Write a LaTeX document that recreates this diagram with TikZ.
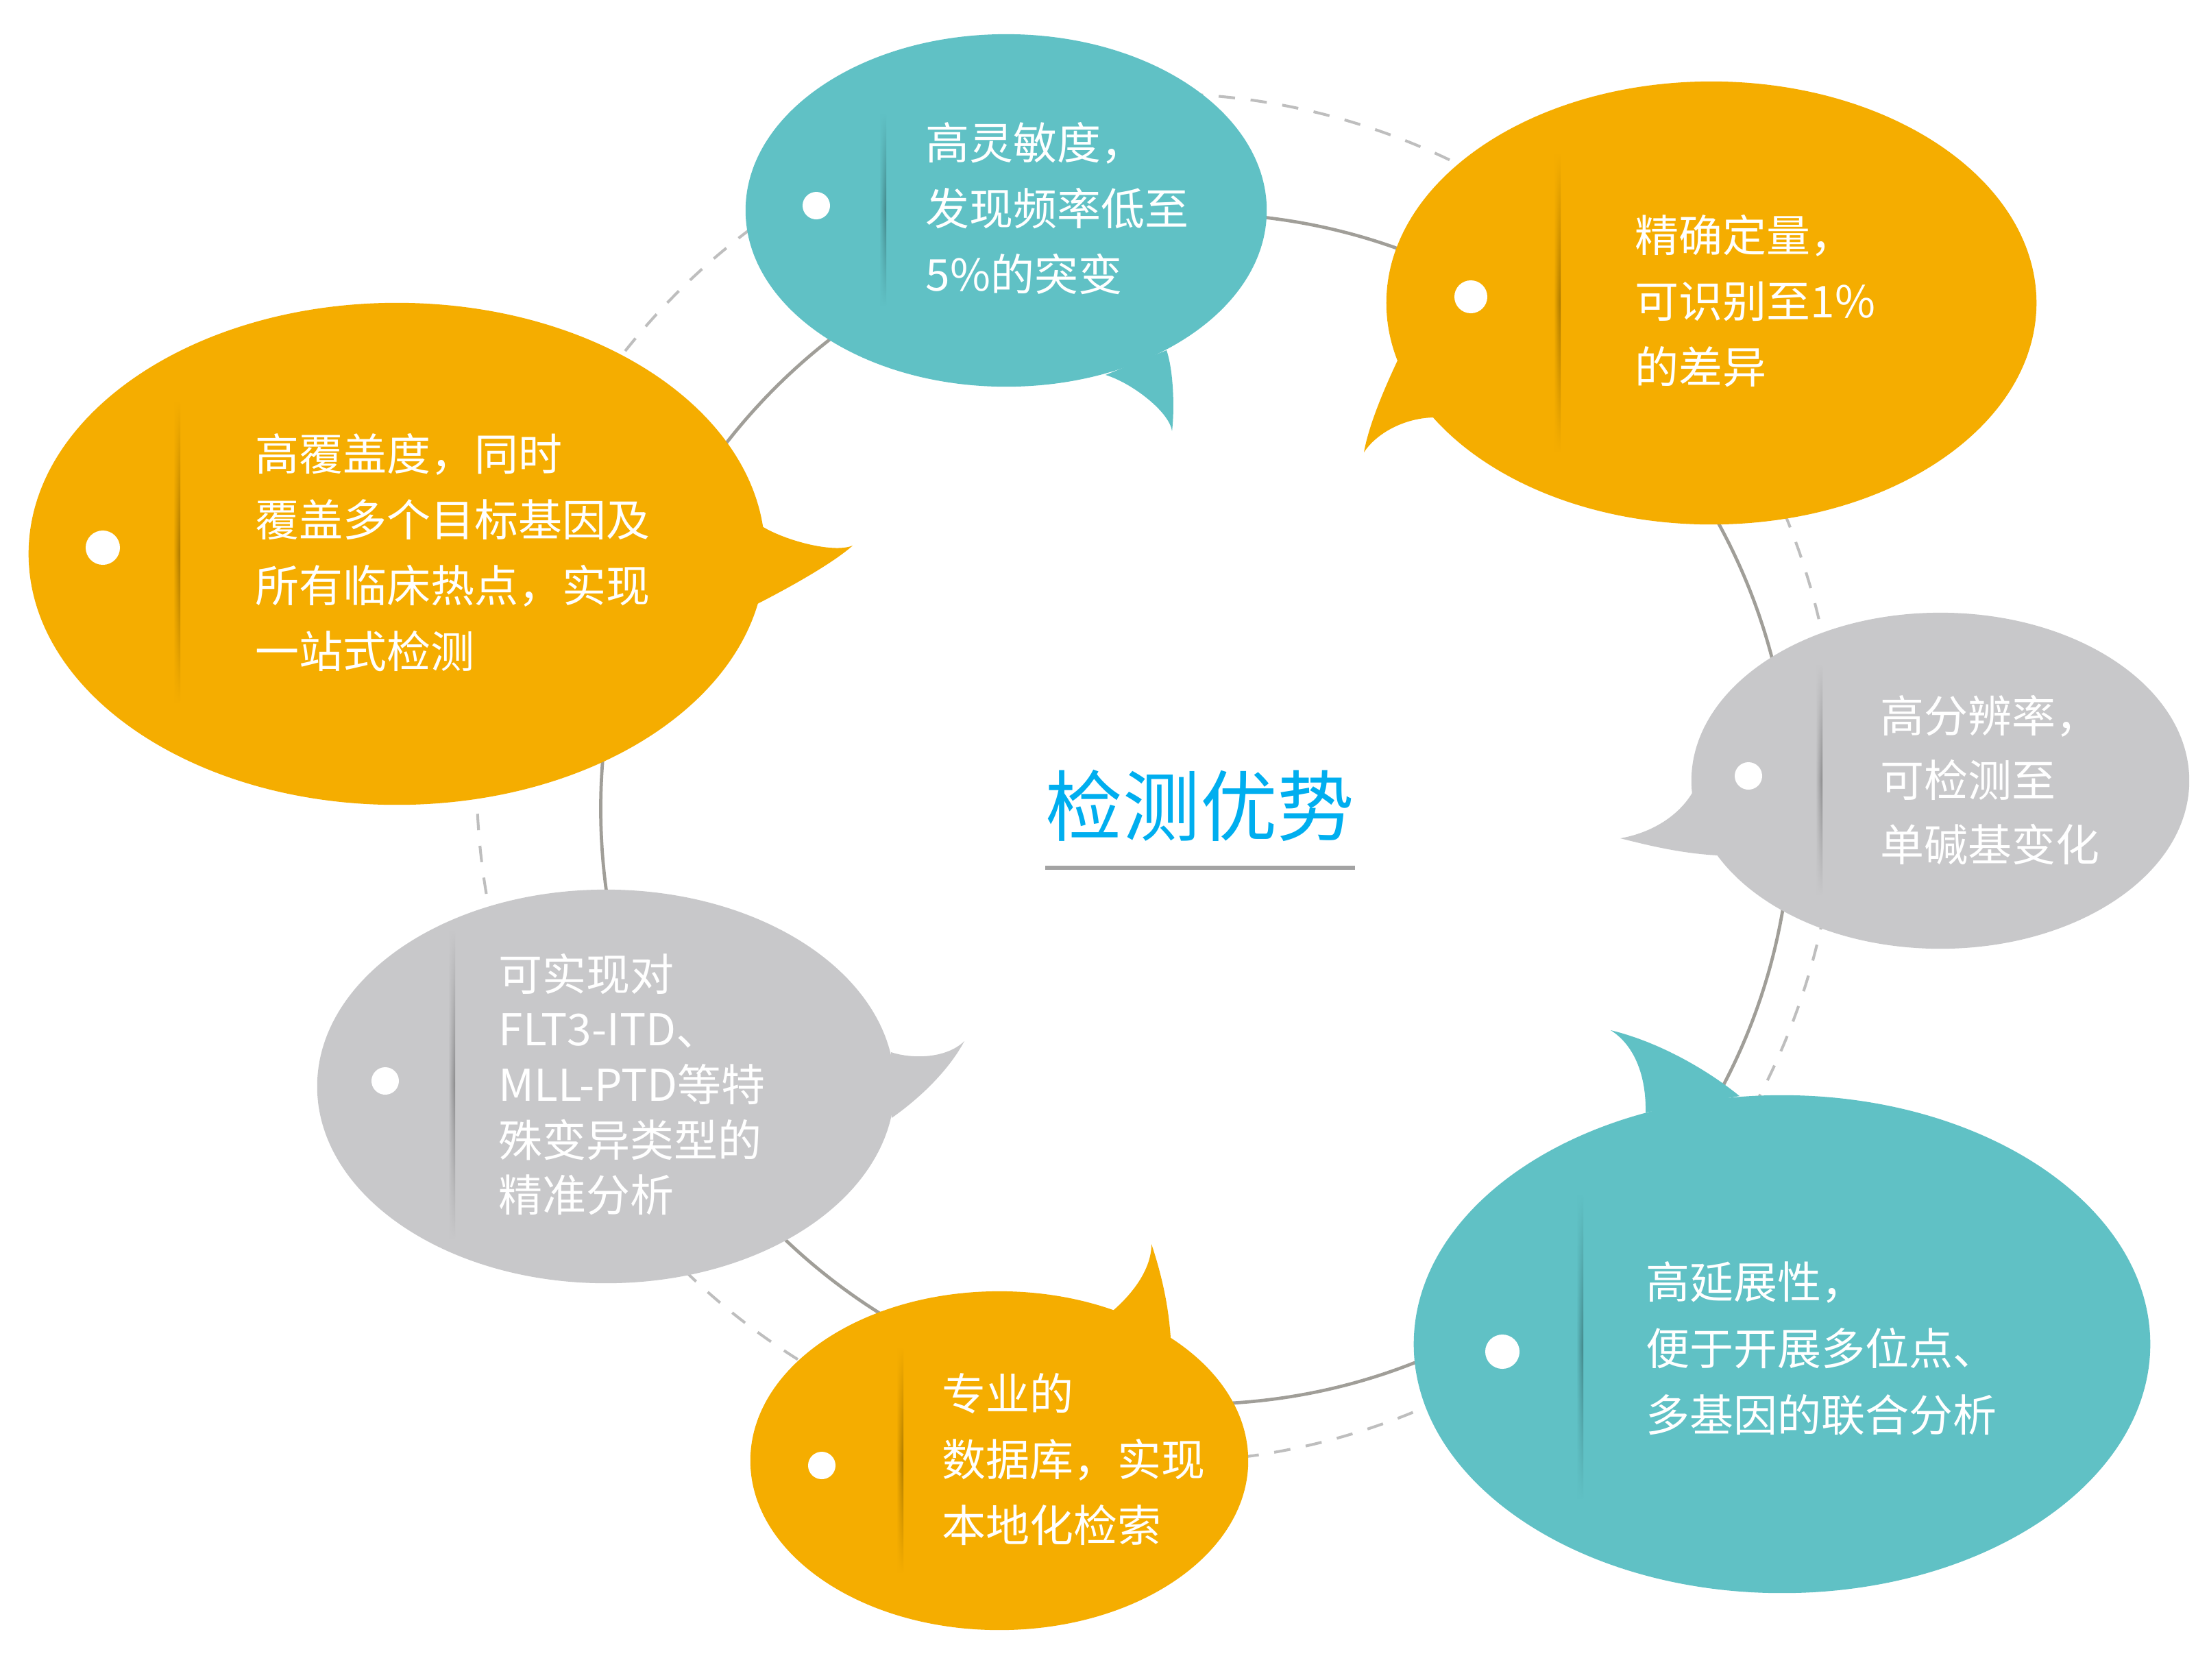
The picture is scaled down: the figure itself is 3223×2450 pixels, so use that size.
\documentclass[tikz,border=0pt]{standalone}
\usepackage{fontspec}
\setmainfont{Noto Sans CJK SC}
\usetikzlibrary{fadings}
\definecolor{cteal}{RGB}{96,193,197}
\definecolor{corange}{RGB}{245,173,0}
\definecolor{cgrey}{RGB}{200,200,202}
\definecolor{ringsolid}{RGB}{160,158,152}
\definecolor{ringdash}{RGB}{190,190,190}
\definecolor{titleblue}{RGB}{0,174,239}
\definecolor{ulgrey}{RGB}{163,163,163}
\tikzfading[name=vfade, top color=transparent!100, bottom color=transparent!100, middle color=transparent!0]
\begin{document}
\begin{tikzpicture}[x=0.01cm, y=-0.01cm,
  solidring/.style={draw=ringsolid, line width=1.35pt},
  dashring/.style={draw=ringdash, line width=1.15pt, dash pattern=on 6.8pt off 6.5pt},
  dotmark/.style={circle, fill=white, inner sep=0pt, minimum size=#1},
  txt/.style={anchor=west, inner sep=0pt, align=left, text=white, font=\fontsize{18.2pt}{#1}\selectfont},
  txt/.default={27.3pt},
  divider/.style={left color=#1, right color=#1!68!black, path fading=vfade},
  titletext/.style={text=titleblue, inner sep=0pt, font=\fontsize{32pt}{38pt}\selectfont}
]
\fill[white] (0,0) rectangle (3223,2450);
\useasboundingbox (0,0) rectangle (3223,2450);

% rings
\draw[solidring] (1745,1180) circle [radius=8.68cm];
\draw[dashring] (1688,1135) ellipse [x radius=9.92cm, y radius=9.98cm];

% bubble A (teal, top)
\fill[cteal] (1468,307) ellipse [x radius=3.80cm, y radius=2.57cm];
\fill[cteal] (1613,547) .. controls (1650,558) and (1706,600) .. (1710,629) .. controls (1714,595) and (1712,540) .. (1702,511) -- cycle;
% bubble B (orange, top right)
\fill[corange] (2497,442) ellipse [x radius=4.74cm, y radius=3.23cm];
\fill[corange] (2039,526) .. controls (2025,556) and (1998,615) .. (1990,660) .. controls (2008,632) and (2050,609) .. (2094,609) -- cycle;
% bubble C (orange, left)
\fill[corange] (579,808) ellipse [x radius=5.37cm, y radius=3.66cm];
\fill[corange] (1109,766) .. controls (1140,787) and (1215,808) .. (1244,796) .. controls (1215,822) and (1150,858) .. (1105,881) -- cycle;
% bubble D (grey, right)
\fill[cgrey] (2831,1139) ellipse [x radius=3.63cm, y radius=2.45cm];
\fill[cgrey] (2470,1155) .. controls (2450,1190) and (2410,1215) .. (2364,1223) .. controls (2400,1232) and (2450,1245) .. (2507,1248) -- cycle;
% bubble E (grey, left bottom)
\fill[cgrey] (884,1585) ellipse [x radius=4.21cm, y radius=2.87cm];
\fill[cgrey] (1300,1535) .. controls (1330,1545) and (1380,1545) .. (1407,1519) .. controls (1385,1560) and (1345,1600) .. (1301,1631) -- cycle;
% bubble F (orange, bottom)
\fill[corange] (1458,2131) ellipse [x radius=3.63cm, y radius=2.47cm];
\fill[corange] (1624,1912) .. controls (1655,1885) and (1680,1850) .. (1680,1815) .. controls (1695,1860) and (1705,1905) .. (1708,1952) -- cycle;
% bubble G (teal, bottom right)
\fill[cteal] (2600,1961) ellipse [x radius=5.37cm, y radius=3.63cm];
\fill[cteal] (2401,1623) .. controls (2402,1570) and (2385,1525) .. (2350,1503) .. controls (2420,1520) and (2490,1560) .. (2538,1599) -- cycle;

% dividers
\shade[divider=cteal] (1283,166) rectangle (1293,446);
\shade[divider=corange] (2267,225) rectangle (2277,658);
\shade[divider=corange] (253,586) rectangle (263,1025);
\shade[divider=cgrey] (2649,970) rectangle (2659,1305);
\shade[divider=cgrey] (654,1358) rectangle (664,1806);
\shade[divider=corange] (1308,1966) rectangle (1318,2294);
\shade[divider=cteal] (2300,1744) rectangle (2310,2187);

% dots
\node[dotmark=0.40cm] (dA) at (1191,300) {};
\node[dotmark=0.48cm] (dB) at (2146,433) {};
\node[dotmark=0.50cm] (dC) at (150,799) {};
\node[dotmark=0.40cm] (dD) at (2551,1132) {};
\node[dotmark=0.40cm] (dE) at (562,1577) {};
\node[dotmark=0.40cm] (dF) at (1199,2138) {};
\node[dotmark=0.50cm] (dG) at (2192,1972) {};

% texts
\node[txt] (tA) at (1350,304) {高灵敏度，\\发现频率低至\\5\%的突变};
\node[txt] (tB) at (2385,439) {精确定量，\\可识别至1\%\\的差异};
\node[txt] (tC) at (372,806) {高覆盖度，同时\\覆盖多个目标基因及\\所有临床热点，实现\\一站式检测};
\node[txt=26.7pt] (tD) at (2743,1138) {高分辨率，\\可检测至\\单碱基变化};
\node[txt=22.9pt] (tE) at (727,1582) {可实现对\\FLT3-ITD、\\MLL-PTD等特\\殊变异类型的\\精准分析};
\node[txt] (tF) at (1374,2129) {专业的\\数据库，实现\\本地化检索};
\node[txt=27.6pt] (tG) at (2401,1967) {高延展性，\\便于开展多位点、\\多基因的联合分析};

% title
\node[titletext] (title) at (1751,1175) {检测优势};
\coordinate (ulL) at (1525,1266);
\coordinate (ulR) at (1977,1266);
\draw[ulgrey, line width=1.7pt] (ulL) -- (ulR);
\end{tikzpicture}
\end{document}
